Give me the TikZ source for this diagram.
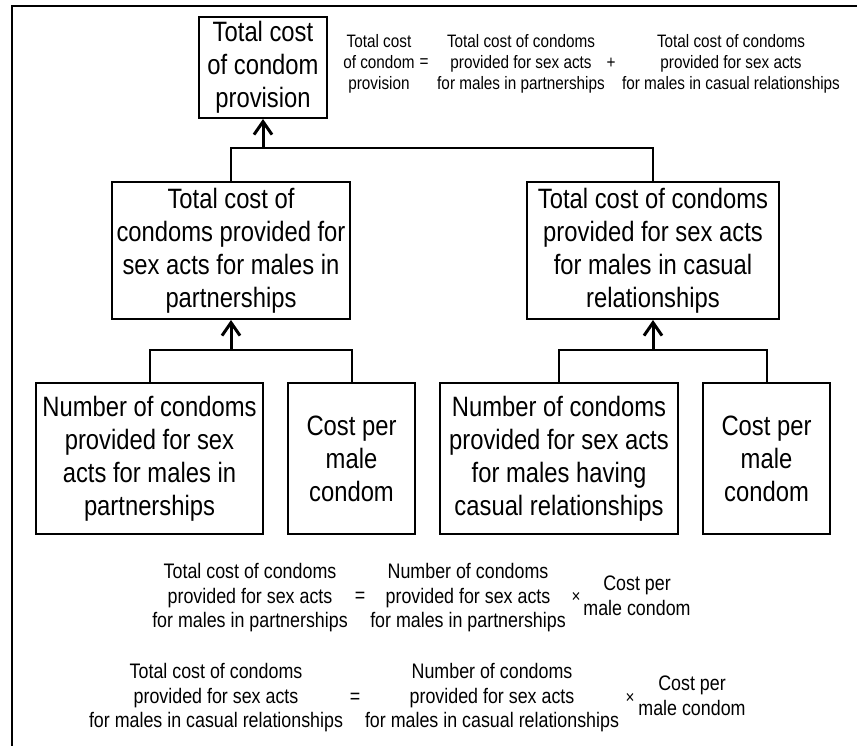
\documentclass[tikz,border=0pt]{standalone}
\usepackage{fontspec}
\setmainfont{Liberation Sans}[FakeStretch=0.85]
\usetikzlibrary{arrows.meta,positioning}

\begin{document}
\begin{tikzpicture}[x=1pt,y=-1pt,
  boxstyle/.style={draw,line width=2pt,align=center,inner sep=0pt,font=\fontsize{28}{33}\selectfont},
  eqsmall/.style={align=center,inner sep=0pt,font=\fontsize{18}{21}\selectfont},
  eqbig/.style={align=center,inner sep=0pt,font=\fontsize{21}{24.5}\selectfont},
  linkstyle/.style={line width=2pt},
  upstyle/.style={line width=3pt,-{Straight Barb[length=13pt,width=18pt]}}]
\useasboundingbox (0,0) rectangle (857,746);
% frame of the figure
\draw [line width=2pt] (857,6) -| (12,746);
% boxes
       \node [boxstyle,minimum width=128,minimum height=101] (total) at (263,67.5) {Total cost\\of condom\\provision};
       \node [boxstyle,minimum width=238,minimum height=137] (partner) at (231,250.5) {Total cost of\\condoms provided for\\sex acts for males in\\partnerships};
       \node [boxstyle,minimum width=252,minimum height=137] (casual) at (653,250.5) {Total cost of condoms\\provided for sex acts\\for males in casual\\relationships};
       \node [boxstyle,minimum width=227,minimum height=151] (numpart) at (149.5,458.5) {Number of condoms\\provided for sex\\acts for males in\\partnerships};
       \node [boxstyle,minimum width=127,minimum height=151] (costpart) at (351.5,458.5) {Cost per\\male\\condom};
       \node [boxstyle,minimum width=238,minimum height=151] (numcas) at (559,458.5) {Number of condoms\\provided for sex acts\\for males having\\casual relationships};
       \node [boxstyle,minimum width=127,minimum height=151] (costcas) at (766.5,458.5) {Cost per\\male\\condom};
% junctions
\coordinate (jtop) at (263,148);
\coordinate (jpart) at (231,350);
\coordinate (jcas) at (653,350);
% connectors
\draw [linkstyle] (partner.north) |- (jtop) -| (casual.north);
\draw [upstyle] (jtop) -- (total.south);
\draw [linkstyle] (numpart.north) |- (jpart) -| (costpart.north);
\draw [upstyle] (jpart) -- (partner.south);
\draw [linkstyle] (numcas.north) |- (jcas) -| (costcas.north);
\draw [upstyle] (jcas) -- (casual.south);
% top equation
       \node [eqsmall] (eqtotal) at (379,64) {Total cost\\of condom\\provision};
       \node [eqsmall] (eqequal) at (424,63) {=};
       \node [eqsmall] (eqpart) at (521,64) {Total cost of condoms\\provided for sex acts\\for males in partnerships};
       \node [eqsmall] (eqplus) at (611,63) {+};
       \node [eqsmall] (eqcas) at (731,64) {Total cost of condoms\\provided for sex acts\\for males in casual relationships};
% first bottom equation
       \node [eqbig] (parttotal) at (250,598) {Total cost of condoms\\provided for sex acts\\for males in partnerships};
       \node [eqbig] (partequal) at (360,597) {=};
       \node [eqbig] (partnum) at (468,598) {Number of condoms\\provided for sex acts\\for males in partnerships};
       \node [eqsmall] (parttimes) at (576,597) {×};
       \node [eqbig] (partcost) at (637,596) {Cost per\\male condom};
% second bottom equation
       \node [eqbig] (castotal) at (216,698) {Total cost of condoms\\provided for sex acts\\for males in casual relationships};
       \node [eqbig] (casequal) at (355,698) {=};
       \node [eqbig] (casnum) at (492,698) {Number of condoms\\provided for sex acts\\for males in casual relationships};
       \node [eqsmall] (castimes) at (630,698) {×};
       \node [eqbig] (cascost) at (692,696) {Cost per\\male condom};
\end{tikzpicture}
\end{document}
